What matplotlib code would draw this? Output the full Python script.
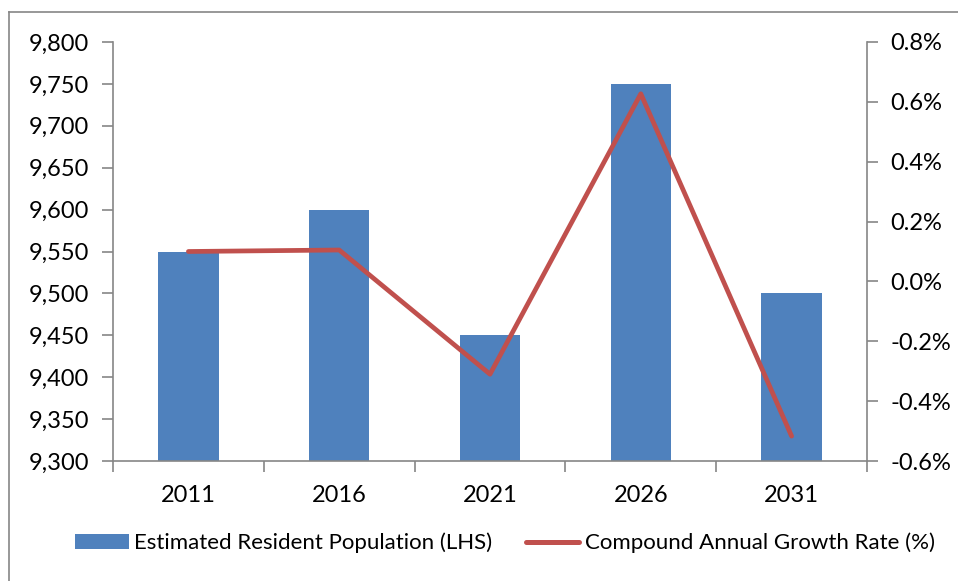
import matplotlib.pyplot as plt
from matplotlib.lines import Line2D
from matplotlib.patches import Patch
from matplotlib.ticker import FuncFormatter, FixedLocator

# Data
years = ["2011", "2016", "2021", "2026", "2031"]
population = [9550, 9600, 9450, 9750, 9500]
growth_pct = [0.10, 0.105, -0.31, 0.627, -0.517]

bar_color = "#4F81BD"
line_color = "#C0504D"
axis_color = "#868686"

plt.rcParams["font.family"] = ["Lato", "DejaVu Sans"]

W, H = 958, 581
fig = plt.figure(figsize=(W / 100, H / 100), dpi=100)

# outer chart-area border (left and top edges visible in the reference)
fig.add_artist(Line2D([9 / W, 9 / W], [0, 1 - 12 / H], transform=fig.transFigure,
                      color=axis_color, lw=1.2))
fig.add_artist(Line2D([9 / W, 1], [1 - 12 / H, 1 - 12 / H], transform=fig.transFigure,
                      color=axis_color, lw=1.2))

left, right, top, bottom = 113, 867, 42, 461
ax = fig.add_axes([left / W, 1 - bottom / H, (right - left) / W, (bottom - top) / H])
ax2 = ax.twinx()

x = list(range(len(years)))
ax.bar(x, population, width=0.4, color=bar_color, zorder=2)
ax.set_ylim(9300, 9800)
ax.set_yticks(range(9300, 9801, 50))
ax.yaxis.set_major_formatter(FuncFormatter(lambda v, p: f"{int(v):,}"))
ax.set_xlim(-0.5, len(years) - 0.5)
ax.set_xticks(x)
ax.set_xticklabels(years)
ax.xaxis.set_minor_locator(FixedLocator([i - 0.5 for i in range(len(years) + 1)]))
ax.tick_params(axis="x", which="major", length=0, pad=17, labelsize=17)
ax.tick_params(axis="x", which="minor", length=8, width=1.2, color=axis_color)
ax.tick_params(axis="y", length=8, width=1.2, color=axis_color, labelsize=17, pad=9)

ax2.plot(x, growth_pct, color=line_color, lw=3.4, solid_capstyle="round", zorder=3)
ax2.set_ylim(-0.6, 0.8)
ax2.set_yticks([-0.6, -0.4, -0.2, 0.0, 0.2, 0.4, 0.6, 0.8])
ax2.yaxis.set_major_formatter(FuncFormatter(lambda v, p: f"{v:.1f}%"))
ax2.tick_params(axis="y", length=8, width=1.2, color=axis_color, labelsize=17, pad=9)

for a in (ax, ax2):
    a.spines["top"].set_visible(False)
    for s in ("left", "right", "bottom"):
        a.spines[s].set_color(axis_color)
        a.spines[s].set_linewidth(1.2)
ax.spines["right"].set_visible(False)
ax2.spines["left"].set_visible(False)
ax2.spines["bottom"].set_visible(False)

handles = [Patch(facecolor=bar_color, edgecolor="none"),
           Line2D([0], [0], color=line_color, lw=3.6, solid_capstyle="round")]
labels = ["Estimated Resident Population (LHS)", "Compound Annual Growth Rate (%)"]
fig.legend(handles, labels, loc="center", bbox_to_anchor=(505 / W, 1 - 543 / H),
           ncol=2, frameon=False, fontsize=16, handlelength=2.4, handletextpad=0.25,
           columnspacing=1.5, handleheight=0.65)

fig.savefig("out.png", dpi=100)
